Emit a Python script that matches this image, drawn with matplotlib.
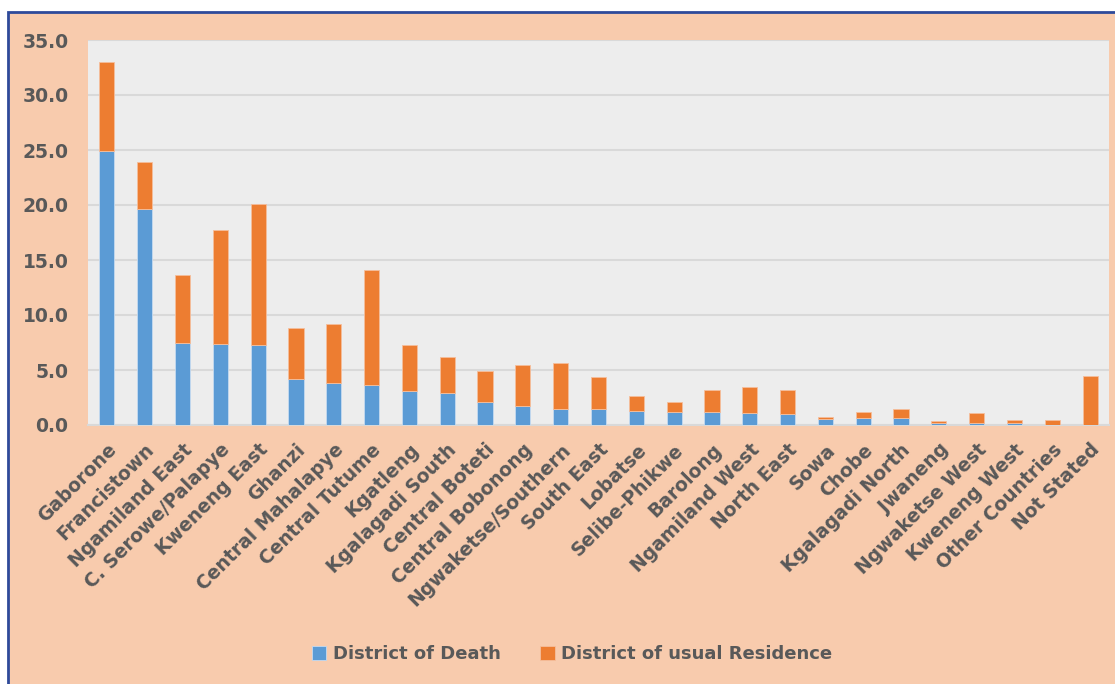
import matplotlib.pyplot as plt
from matplotlib.patches import Rectangle
import numpy as np

districts = ["Gaborone", "Francistown", "Ngamiland East", "C. Serowe/Palapye", "Kweneng East",
             "Ghanzi", "Central Mahalapye", "Central Tutume", "Kgatleng", "Kgalagadi South",
             "Central Boteti", "Central Bobonong", "Ngwaketse/Southern", "South East", "Lobatse",
             "Selibe-Phikwe", "Barolong", "Ngamiland West", "North East", "Sowa", "Chobe",
             "Kgalagadi North", "Jwaneng", "Ngwaketse West", "Kweneng West", "Other Countries",
             "Not Stated"]
death = [24.9, 19.6, 7.5, 7.4, 7.3, 4.15, 3.85, 3.6, 3.05, 2.9, 2.1, 1.7, 1.5, 1.5, 1.3,
         1.2, 1.2, 1.1, 1.0, 0.55, 0.6, 0.6, 0.15, 0.15, 0.15, 0.02, 0.0]
total = [33.0, 23.9, 13.6, 17.7, 20.1, 8.85, 9.2, 14.1, 7.3, 6.15, 4.9, 5.5, 5.6, 4.4, 2.65,
         2.1, 3.15, 3.5, 3.15, 0.7, 1.2, 1.5, 0.35, 1.05, 0.45, 0.45, 4.5]
residence = [t - d for t, d in zip(total, death)]

grey_txt = "#595959"
peach = "#F8CBAD"

fig = plt.figure(figsize=(11.15, 6.84), dpi=100)
fig.patch.set_facecolor("white")
# peach panel with blue border (cropped on right and bottom)
fig.patches.append(Rectangle((8 / 1115, -0.05), 1.2, 1 - 12 / 684 + 0.05, transform=fig.transFigure,
                             facecolor=peach, edgecolor="#2E4A9A", linewidth=2, zorder=-5))

ax = fig.add_axes([88 / 1115, 1 - 425 / 684, (1109 - 88) / 1115, (425 - 40) / 684])
ax.set_zorder(2)
ax.set_facecolor("#EDEDED")

x = np.arange(len(districts))
ax.bar(x, death, width=0.4, color="#5B9BD5", edgecolor="#C5DAF0", linewidth=0.6,
       label="District of Death", zorder=3)
ax.bar(x, residence, width=0.4, bottom=death, color="#ED7D31", edgecolor="#F5BE9C",
       linewidth=0.6, label="District of usual Residence", zorder=3)

ax.set_xlim(-0.5, len(districts) - 0.5)
ax.set_ylim(0, 35)
ax.set_yticks(np.arange(0, 36, 5))
ax.set_yticklabels([f"{v:.1f}" for v in np.arange(0, 36, 5)])
ax.yaxis.grid(True, color="#D9D9D9", linewidth=1.5, zorder=0)
ax.set_axisbelow(True)
for s in ["top", "right", "left"]:
    ax.spines[s].set_visible(False)
ax.spines["bottom"].set_color("#D9D9D9")
ax.spines["bottom"].set_linewidth(1.5)

ax.tick_params(axis="y", length=0, pad=14, labelsize=13.5, labelcolor=grey_txt)
ax.tick_params(axis="x", length=0, pad=11, labelsize=13.5, labelcolor=grey_txt)
ax.set_xticks(x)
ax.set_xticklabels(districts, rotation=45, ha="right", rotation_mode="anchor")
for lbl in ax.get_xticklabels() + ax.get_yticklabels():
    lbl.set_fontweight("bold")

fig.legend(loc="center", bbox_to_anchor=(572 / 1115, 1 - 654 / 684), ncol=2, frameon=False,
           prop={"size": 13, "weight": "bold"}, labelcolor=grey_txt, handlelength=0.8,
           handleheight=0.8, handletextpad=0.35, columnspacing=2.2)

fig.savefig("out.png", dpi=100, facecolor=fig.get_facecolor())
